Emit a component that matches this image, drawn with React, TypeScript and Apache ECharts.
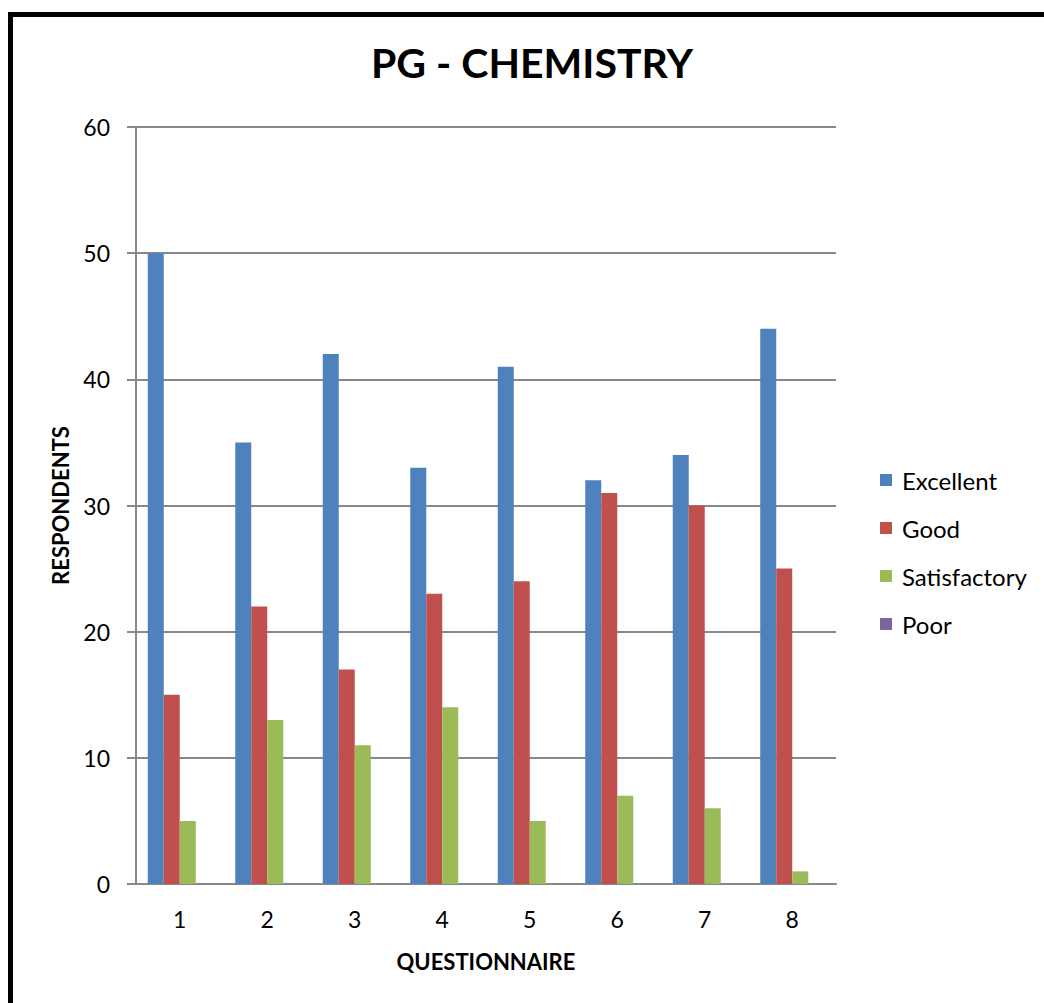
import React, { useEffect, useRef } from "react";
import * as echarts from "echarts";

const categories = ["1", "2", "3", "4", "5", "6", "7", "8"];
const excellent = [50, 35, 42, 33, 41, 32, 34, 44];
const good = [15, 22, 17, 23, 24, 31, 30, 25];
const satisfactory = [5, 13, 11, 14, 5, 7, 6, 1];
const poor = [0, 0, 0, 0, 0, 0, 0, 0];
const seriesNames = ["Excellent", "Good", "Satisfactory", "Poor"];
const colors = ["#4F81BD", "#C0504D", "#9BBB59", "#8064A2"];

export default function App() {
  const ref = useRef<HTMLDivElement>(null);
  useEffect(() => {
    if (!ref.current) return;
    const chart = echarts.init(ref.current, null, { renderer: "svg" });
    const font = "Lato, 'Open Sans', sans-serif";
    const data = [excellent, good, satisfactory, poor];
    chart.setOption({
      animation: false,
      textStyle: { fontFamily: font },
      title: {
        text: "PG - CHEMISTRY",
        left: 532,
        top: 42,
        padding: 0,
        textAlign: "center",
        textStyle: { fontSize: 41, fontWeight: "bold", color: "#000", fontFamily: font },
      },
      legend: {
        orient: "vertical",
        left: 880,
        top: 468,
        padding: 0,
        itemWidth: 12,
        itemHeight: 12,
        itemGap: 24,
        icon: "rect",
        data: seriesNames,
        textStyle: { fontSize: 24, color: "#000", fontFamily: font, lineHeight: 24, padding: [0, 0, 0, 5] },
      },
      grid: { left: 136, top: 127, width: 700, height: 757, containLabel: false },
      xAxis: {
        type: "category",
        data: categories,
        name: "QUESTIONNAIRE",
        nameLocation: "middle",
        nameGap: 66,
        nameTextStyle: { fontSize: 22, fontWeight: "bold", color: "#000", fontFamily: font },
        axisLine: { lineStyle: { color: "#888", width: 2 } },
        axisTick: { show: false },
        axisLabel: { fontSize: 23, color: "#000", margin: 23, fontFamily: font },
      },
      yAxis: {
        type: "value",
        min: 0,
        max: 60,
        interval: 10,
        name: "RESPONDENTS",
        nameLocation: "middle",
        nameGap: 65,
        nameRotate: 90,
        nameTextStyle: { fontSize: 22, fontWeight: "bold", color: "#000", fontFamily: font },
        axisLine: { show: true, lineStyle: { color: "#888", width: 2 } },
        axisTick: { show: true, length: 9, lineStyle: { color: "#888", width: 2 } },
        axisLabel: { fontSize: 23, color: "#000", margin: 26, fontFamily: font },
        splitLine: { show: true, lineStyle: { color: "#888", width: 2 } },
      },
      series: seriesNames.map((name, i) => ({
        name,
        type: "bar",
        data: data[i],
        barWidth: 16,
        barGap: "0%",
        itemStyle: { color: colors[i] },
      })),
    });
    return () => chart.dispose();
  }, []);
  return (
    <>
      <div
        style={{
          position: "fixed",
          left: 8,
          top: 12,
          width: 1200,
          height: 1200,
          borderTop: "5px solid #000",
          borderLeft: "5px solid #000",
          boxSizing: "border-box",
          background: "#fff",
        }}
      />
      <div
        ref={ref}
        style={{ position: "fixed", left: 0, top: 0, width: 1044, height: 1003 }}
      />
    </>
  );
}
